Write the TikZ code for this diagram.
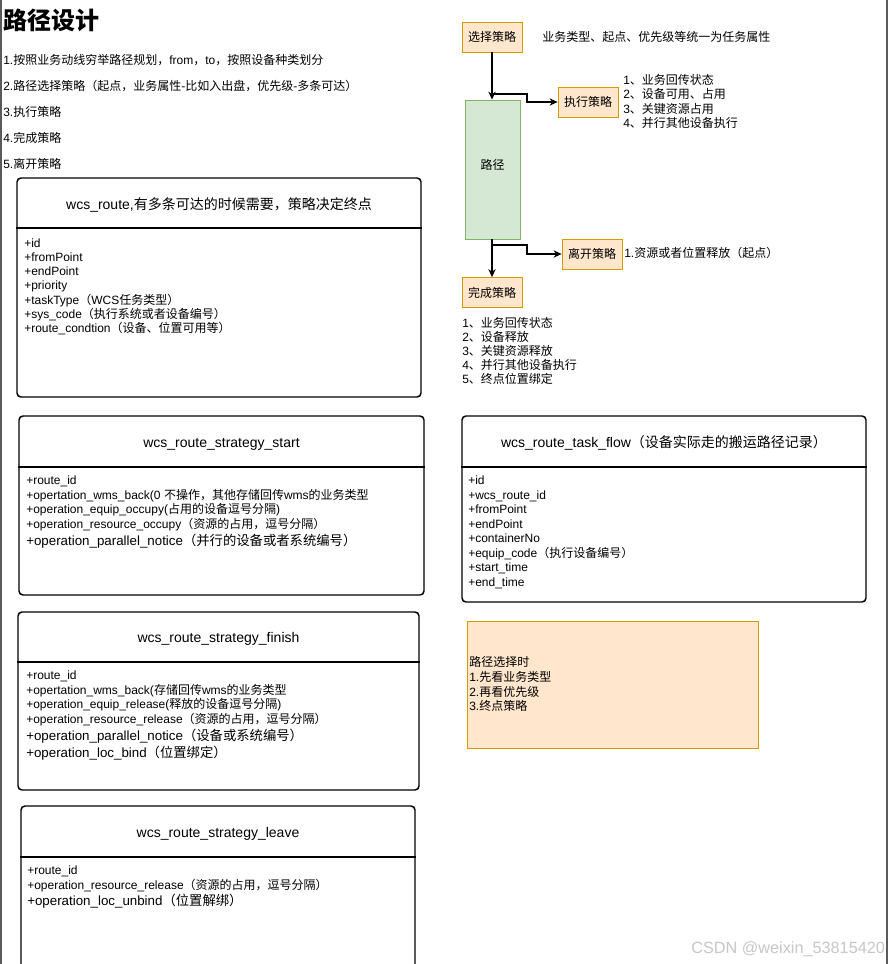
\documentclass[tikz,border=0pt]{standalone}
\usepackage{fontspec}
\setmainfont{Liberation Sans}
\newfontfamily\cjkf{Noto Sans CJK SC}
\usetikzlibrary{fit,arrows.meta}
\newXeTeXintercharclass\CJKcls
\newcount\cjkc
\def\setcjkrange#1#2{\cjkc=#1\relax\loop\XeTeXcharclass\cjkc=\CJKcls\relax\ifnum\cjkc<#2\relax\advance\cjkc by 1\relax\repeat}
\setcjkrange{"3000}{"303F}
\setcjkrange{"4E00}{"9FFF}
\setcjkrange{"FF00}{"FFEF}
\XeTeXinterchartoks 0 \CJKcls = {\cjkf}
\XeTeXinterchartoks 4095 \CJKcls = {\cjkf}
\XeTeXinterchartoks \CJKcls 0 = {\rmfamily}
\XeTeXinterchartoks \CJKcls 4095 = {\rmfamily}
\XeTeXinterchartokenstate=1
\definecolor{ofill}{HTML}{FFE6CC}
\definecolor{oline}{HTML}{D79B00}
\definecolor{gfill}{HTML}{D5E8D4}
\definecolor{gline}{HTML}{82B366}
\definecolor{pageedge}{HTML}{5A5A5A}
\tikzset{
  umlbox/.style={draw=black, line width=1.1pt, rounded corners=3pt, inner sep=0pt},
  divider/.style={draw=black, line width=1.1pt},
  orangebox/.style={draw=oline, fill=ofill, line width=0.6pt, minimum width=45pt, minimum height=22.5pt, inner sep=0pt, font=\fontsize{9}{11}\selectfont},
  greenbox/.style={draw=gline, fill=gfill, line width=0.6pt, inner sep=0pt, font=\fontsize{9}{11}\selectfont},
  attr/.style={anchor=base west, inner sep=0pt, font=\fontsize{9}{11}\selectfont},
  attrbig/.style={anchor=base west, inner sep=0pt, font=\fontsize{10}{12}\selectfont},
  boxtitle/.style={anchor=base, inner sep=0pt, font=\fontsize{10.5}{12}\selectfont},
  arr/.style={-{Stealth[length=6pt,width=5.5pt]}, line width=0.8pt},
}
\begin{document}
\begin{tikzpicture}[x=0.75pt,y=-0.75pt]
\clip (0,0) rectangle (889,964);
\fill[white] (0,0) rectangle (889,964);
\draw[pageedge, line width=1.5pt] (1,0) -- (1,964);
\draw[pageedge, line width=1.5pt] (887,0) -- (887,964);

% heading and intro
\node[anchor=base west, inner sep=0pt, font=\bfseries\fontsize{18}{20}\selectfont] (title) at (3,29) {路径设计};
\foreach \t [count=\i] in {
  {1.按照业务动线穷举路径规划，from，to，按照设备种类划分},
  {2.路径选择策略（起点，业务属性-比如入出盘，优先级-多条可达）},
  {3.执行策略},
  {4.完成策略},
  {5.离开策略}}
  \node[attr] (intro\i) at (3,{64+26*(\i-1)}) {\t};

% box 1
\node[umlbox, fit={(17,178) (421,397)}] (b1) {};
\draw[divider] (b1.west |- 0,228) -- (b1.east |- 0,228);
\node[boxtitle] (b1t) at (219,209) {wcs\_route,有多条可达的时候需要，策略决定终点};
\foreach \t [count=\i] in {
  {+id},{+fromPoint},{+endPoint},{+priority},
  {+taskType（WCS任务类型）},
  {+sys\_code（执行系统或者设备编号）},
  {+route\_condtion（设备、位置可用等）}}
  \node[attr] (b1l\i) at (24,{247+14.33*(\i-1)}) {\t};

% box 2
\node[umlbox, fit={(19,416) (424,595)}] (b2) {};
\draw[divider] (b2.west |- 0,467) -- (b2.east |- 0,467);
\node[boxtitle] (b2t) at (221.5,447) {wcs\_route\_strategy\_start};
\foreach \t [count=\i] in {
  {+route\_id},
  {+opertation\_wms\_back(0 不操作，其他存储回传wms的业务类型},
  {+operation\_equip\_occupy(占用的设备逗号分隔)},
  {+operation\_resource\_occupy（资源的占用，逗号分隔）}}
  \node[attr] (b2l\i) at (26,{484.5+14.5*(\i-1)}) {\t};
\node[attrbig] (b2l5) at (26,545) {+operation\_parallel\_notice（并行的设备或者系统编号）};

% box 3
\node[umlbox, fit={(18,612) (419,790)}] (b3) {};
\draw[divider] (b3.west |- 0,662) -- (b3.east |- 0,662);
\node[boxtitle] (b3t) at (218.5,642) {wcs\_route\_strategy\_finish};
\foreach \t [count=\i] in {
  {+route\_id},
  {+opertation\_wms\_back(存储回传wms的业务类型},
  {+operation\_equip\_release(释放的设备逗号分隔)},
  {+operation\_resource\_release（资源的占用，逗号分隔）}}
  \node[attr] (b3l\i) at (26,{679.5+14.5*(\i-1)}) {\t};
\node[attrbig] (b3l5) at (26,740) {+operation\_parallel\_notice（设备或系统编号）};
\node[attrbig] (b3l6) at (26,757) {+operation\_loc\_bind（位置绑定）};

% box 4
\node[umlbox, fit={(21,806) (415,1000)}] (b4) {};
\draw[divider] (b4.west |- 0,857) -- (b4.east |- 0,857);
\node[boxtitle] (b4t) at (218,837) {wcs\_route\_strategy\_leave};
\node[attr] (b4l1) at (27,874.5) {+route\_id};
\node[attr] (b4l2) at (27,889) {+operation\_resource\_release（资源的占用，逗号分隔）};
\node[attrbig] (b4l3) at (27,905.5) {+operation\_loc\_unbind（位置解绑）};

% box 5
\node[umlbox, fit={(462,416) (866,602)}] (b5) {};
\draw[divider] (b5.west |- 0,467) -- (b5.east |- 0,467);
\node[boxtitle] (b5t) at (664,447) {wcs\_route\_task\_flow（设备实际走的搬运路径记录）};
\foreach \t [count=\i] in {
  {+id},{+wcs\_route\_id},{+fromPoint},{+endPoint},{+containerNo},
  {+equip\_code（执行设备编号）},{+start\_time},{+end\_time}}
  \node[attr] (b5l\i) at (468,{484.5+14.5*(\i-1)}) {\t};

% note box
\node[draw=oline, fill=ofill, line width=0.6pt, inner sep=0pt, fit={(467,621) (758,748)}] (note) {};
\foreach \t [count=\i] in {{路径选择时},{1.先看业务类型},{2.再看优先级},{3.终点策略}}
  \node[attr] (notel\i) at (469,{666.5+14.8*(\i-1)}) {\t};

% flow
\node[orangebox] (sel) at (492,37) {选择策略};
\node[attr] (selnote) at (542,41.5) {业务类型、起点、优先级等统一为任务属性};
\node[greenbox, fit={(465,100) (520,239)}] (path) {路径};
\node[orangebox] (exe) at (588,102) {执行策略};
\node[orangebox] (lv) at (592,254) {离开策略};
\node[orangebox] (fin) at (492,292.5) {完成策略};

\draw[arr] (sel.south) -- (sel.south |- path.north);
\coordinate (e0) at (493,94);
\draw[arr] (e0) -- ++(34,0) |- (exe.west);
\coordinate (l0) at (493,245);
\draw[arr] (l0) -- ++(34,0) |- (lv.west);
\draw[arr] (path.south -| fin.north) -- (fin.north);

\foreach \t [count=\i] in {{1、业务回传状态},{2、设备可用、占用},{3、关键资源占用},{4、并行其他设备执行}}
  \node[attr] (exel\i) at (623,{84.5+14.33*(\i-1)}) {\t};
\node[attr] (lvnote) at (624,257.5) {1.资源或者位置释放（起点）};
\foreach \t [count=\i] in {{1、业务回传状态},{2、设备释放},{3、关键资源释放},{4、并行其他设备执行},{5、终点位置绑定}}
  \node[attr] (finl\i) at (462,{327.5+14*(\i-1)}) {\t};

% watermark
\node[anchor=base west, inner sep=0pt, text=black!22, font=\fontsize{12.2}{14}\selectfont] (wm) at (691,953) {CSDN @weixin\_53815420};
\end{tikzpicture}
\end{document}
